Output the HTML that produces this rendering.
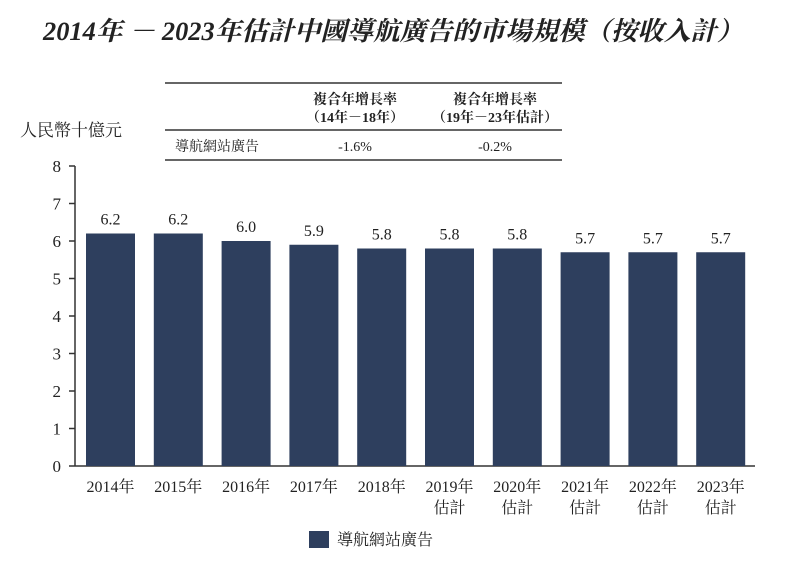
<!DOCTYPE html>
<html><head><meta charset="utf-8"><style>
body{margin:0;background:#fff;}
svg text{font-family:"Liberation Serif","Noto Serif CJK SC",serif;}
</style></head><body>
<svg width="787" height="564" xmlns="http://www.w3.org/2000/svg">
<text x="393" y="40" text-anchor="middle" font-size="26" font-weight="bold" font-style="italic" fill="#222" textLength="700" lengthAdjust="spacingAndGlyphs">2014年 － 2023年估計中國導航廣告的市場規模（按收入計）</text>
<g fill="#222">
<line x1="165" y1="83" x2="562" y2="83" stroke="#333" stroke-width="1.5"/>
<line x1="165" y1="130" x2="562" y2="130" stroke="#333" stroke-width="1.5"/>
<line x1="165" y1="160" x2="562" y2="160" stroke="#333" stroke-width="1.5"/>
<text x="355" y="104" text-anchor="middle" font-size="14" font-weight="bold">複合年增長率</text>
<text x="355" y="122" text-anchor="middle" font-size="14" font-weight="bold">（14年－18年）</text>
<text x="495" y="104" text-anchor="middle" font-size="14" font-weight="bold">複合年增長率</text>
<text x="495" y="122" text-anchor="middle" font-size="14" font-weight="bold">（19年－23年估計）</text>
<text x="175" y="151" font-size="14">導航網站廣告</text>
<text x="355" y="151" text-anchor="middle" font-size="14">-1.6%</text>
<text x="495" y="151" text-anchor="middle" font-size="14">-0.2%</text>
</g>
<text x="20" y="136" font-size="17" fill="#222">人民幣十億元</text>
<g id="axes"></g>
<g id="bars"></g>
<rect x="309" y="531" width="20" height="17" fill="#2e3f5e"/>
<text x="337" y="545" font-size="16" fill="#222">導航網站廣告</text>
</svg>
<script>
const categories=["2014年","2015年","2016年","2017年","2018年","2019年","2020年","2021年","2022年","2023年"];
const subLabels=["","","","","","估計","估計","估計","估計","估計"];
const values=[6.2,6.2,6.0,5.9,5.8,5.8,5.8,5.7,5.7,5.7];
const yTicks=[0,1,2,3,4,5,6,7,8];
const NS="http://www.w3.org/2000/svg";
const y0=466,pxPerUnit=37.5,axisX=75,firstX=86,step=67.8,barW=49;
const y=v=>y0-v*pxPerUnit;
const x=i=>firstX+i*step;
function mk(tag,attrs,parent,text){const e=document.createElementNS(NS,tag);for(const k in attrs)e.setAttribute(k,attrs[k]);if(text!==undefined)e.textContent=text;parent.appendChild(e);return e;}
const ax=document.getElementById('axes');
const yl=mk('line',{x1:axisX,y1:y(8),x2:axisX,y2:y0,stroke:'#333','stroke-width':1.5},ax);


const xl=mk('line',{x1:axisX,y1:y0,x2:755,y2:y0,stroke:'#333','stroke-width':1.5},ax);


yTicks.forEach(t=>{
  const l=mk('line',{x1:axisX-6,y1:y(t),x2:axisX,y2:y(t),stroke:'#333','stroke-width':1.5},ax);
  
  
  const tx=mk('text',{x:axisX-14,y:y(t)+6,'text-anchor':'end','font-size':17,fill:'#222'},ax,t);
  
  
});
const bg=document.getElementById('bars');
values.forEach((v,i)=>{
  const r=mk('rect',{x:x(i),y:y(v),width:barW,height:y0-y(v),fill:'#2e3f5e'},bg);
  
  
  const vl=mk('text',{x:x(i)+barW/2,y:y(v)-9,'text-anchor':'middle','font-size':16,fill:'#222'},bg,v.toFixed(1));
  
  
  const cl=mk('text',{x:x(i)+barW/2,y:y0+26,'text-anchor':'middle','font-size':16,fill:'#222'},bg,categories[i]);
  
  
  if(subLabels[i]){
    const sl=mk('text',{x:x(i)+barW/2,y:y0+47,'text-anchor':'middle','font-size':16,fill:'#222'},bg,subLabels[i]);
    
    
  }
});
</script>
</body></html>
